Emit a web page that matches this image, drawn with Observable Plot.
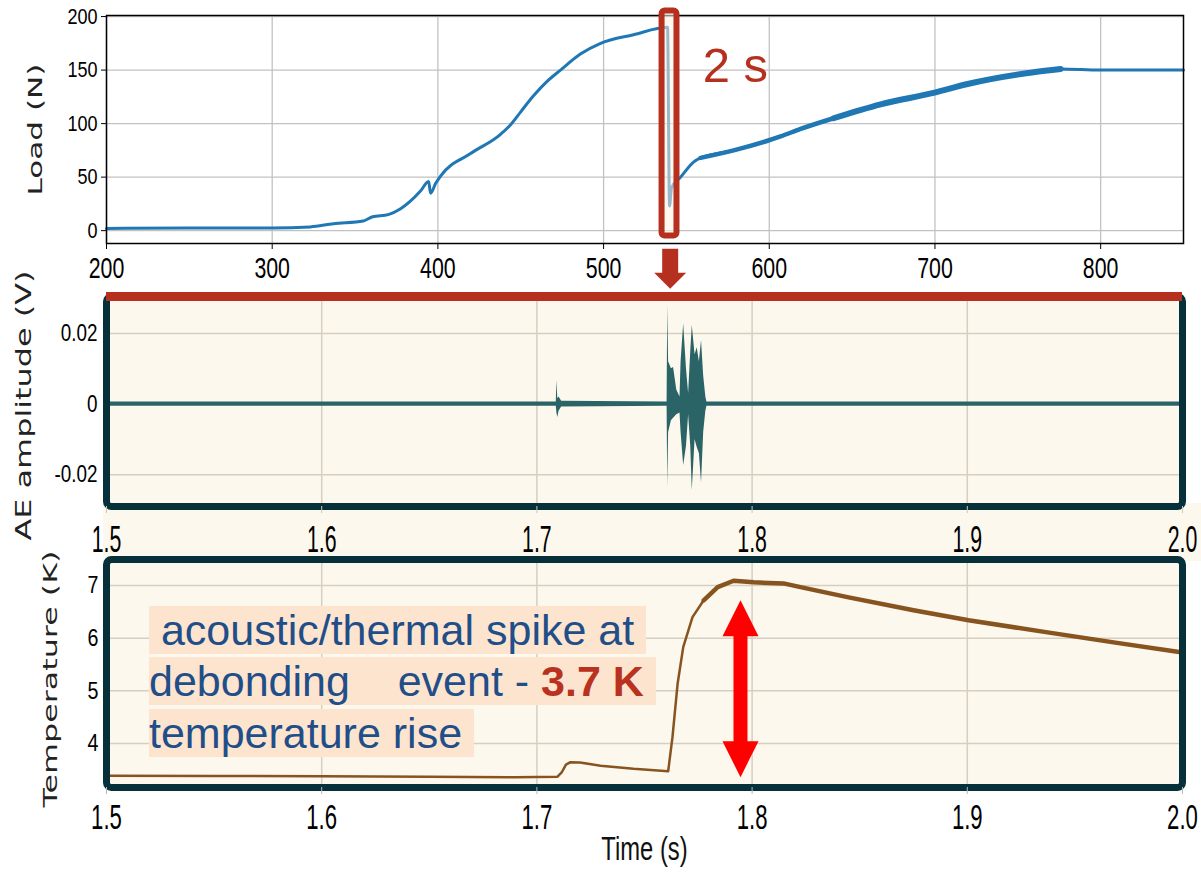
<!DOCTYPE html>
<html><head><meta charset="utf-8">
<script src="https://cdn.jsdelivr.net/npm/d3@7"></script>
<script src="https://cdn.jsdelivr.net/npm/@observablehq/plot@0.6"></script>
<style>
body{margin:0;background:#fff;}
#wrap{position:relative;width:1201px;height:872px;overflow:hidden;background:#fff;}
#wrap svg{position:absolute;left:0;}
.band{position:absolute;background:#fdf8ee;}
.note{position:absolute;left:149px;height:48px;line-height:48px;background:#fde4cf;color:#1f4e89;font-family:"Liberation Sans",Arial,sans-serif;font-size:43px;white-space:pre;}
.note b{color:#b8321f;}
</style></head><body><div id="wrap"></div>
<script>
// ---------- data ----------
const loadTime = [200, 250, 300, 323, 337, 355, 360.6, 370, 377.5, 389.5, 394.4, 395.6, 398.6, 401.6, 419.7, 437.8, 443.9, 450, 457.7, 465.6, 474, 486, 498.2, 518, 538.6, 539.8, 541, 546.5, 554.3, 558.5, 578.5, 599, 606.8, 618.9, 638.8, 667.2, 699.8, 719.7, 759.6, 775.8, 800, 850];
const loadN    = [2, 2.5, 2.5, 3.5, 6.5, 9, 13, 15, 20.5, 37, 46, 35, 44, 51, 72, 90, 99, 111, 126, 139, 150, 165, 175, 183, 190, 23, 40, 50, 64, 68, 75, 84, 88, 95, 105, 118, 129, 137, 148, 151, 150, 150];
const loadXTicks = [200, 300, 400, 500, 600, 700, 800];
const loadYTicks = [0, 50, 100, 150, 200];

const aeTime = [1.5, 1.709, 1.7093, 1.7097, 1.7103, 1.7115, 1.7605, 1.7608, 1.7612, 1.7625, 1.7635, 1.765, 1.7665, 1.767, 1.7682, 1.7695, 1.7705, 1.7715, 1.7722, 1.7735, 1.7745, 1.7755, 1.7765, 1.7775, 1.7785, 1.779, 2.0];
const aeHigh = [0.0006, 0.0006, 0.0067, 0.0015, 0.002, 0.0008, 0.0006, 0.028, 0.012, 0.010, 0.0104, 0.004, 0.002, 0.012, 0.0228, 0.010, 0.003, 0.015, 0.0223, 0.014, 0.016, 0.012, 0.018, 0.008, 0.002, 0.0006, 0.0006];
const aeLow  = [-0.0006, -0.0006, -0.0025, -0.0038, -0.002, -0.0008, -0.0006, -0.0237, -0.008, -0.0047, -0.004, -0.003, -0.0025, -0.008, -0.0174, -0.012, -0.003, -0.012, -0.0245, -0.010, -0.0123, -0.014, -0.0223, -0.008, -0.002, -0.0006, -0.0006];
const aeYTicks = [-0.02, 0, 0.02];

const tempTime = [1.5, 1.55, 1.6, 1.65, 1.69, 1.7096, 1.7115, 1.7135, 1.7156, 1.72, 1.7296, 1.7449, 1.761, 1.763, 1.7654, 1.768, 1.7723, 1.7775, 1.784, 1.7914, 1.8007, 1.8146, 1.8225, 1.8443, 1.875, 1.9006, 1.9373, 1.968, 2.0];
const tempK    = [3.39, 3.385, 3.38, 3.37, 3.36, 3.37, 3.45, 3.6, 3.645, 3.64, 3.58, 3.52, 3.474, 4.12, 5.14, 5.83, 6.40, 6.72, 6.97, 7.09, 7.06, 7.04, 6.97, 6.78, 6.53, 6.34, 6.11, 5.92, 5.73];
const timeTicks = [1.5, 1.6, 1.7, 1.8, 1.9, 2.0];
const tempYTicks = [4, 5, 6, 7];

// annotations (data units)
const zoomBox = {x1: 535.3, x2: 544.3, y1: -5.1, y2: 205.1};
const zoomLabel = {x: 559.8, y: 153.7, text: "2 s"};
const zoomArrow = {x: 540.2, y: -16.8};
const riseArrow = {x: 1.7946, low: 3.36, high: 6.72};

// ---------- helpers ----------
const SANS = '"Liberation Sans",Arial,sans-serif';
const cream = "#fdf8ee", darkFrame = "#06303a", red = "#b5301f";
const loadData = loadTime.map((t, i) => ({t, v: loadN[i]}));
const aeData = aeTime.map((t, i) => ({t, hi: aeHigh[i], lo: aeLow[i]}));
const tempData = tempTime.map((t, i) => ({t, v: tempK[i]}));

const headUp = {draw(c){ c.moveTo(0,0); c.lineTo(18,36); c.lineTo(-18,36); c.closePath(); }};
const headDown = {draw(c){ c.moveTo(0,0); c.lineTo(18,-36); c.lineTo(-18,-36); c.closePath(); }};
const blockDown = {draw(c){ c.moveTo(-8,0); c.lineTo(8,0); c.lineTo(8,24); c.lineTo(16,24); c.lineTo(0,40); c.lineTo(-16,24); c.lineTo(-8,24); c.closePath(); }};

function stretchEl(el, sx, sy, ax, ay) {
  const b = el.getBBox();
  const cx = b.x + b.width * ax, cy = b.y + b.height * ay;
  const t = el.getAttribute("transform") || "";
  el.setAttribute("transform", `${t} translate(${cx},${cy}) scale(${sx},${sy}) translate(${-cx},${-cy})`);
}
function stretch(svg, sel, sx, sy, ax, ay) {
  svg.querySelectorAll(sel).forEach(el => stretchEl(el, sx, sy, ax, ay));
}
function byText(svg, s) {
  return [...svg.querySelectorAll("text")].filter(el => el.textContent === s);
}
function fitLength(svg, s, len) {
  byText(svg, s).forEach(el => {
    el.setAttribute("textLength", len);
    el.setAttribute("lengthAdjust", "spacingAndGlyphs");
  });
}
const fmt1 = d => d.toFixed(1);
const fmtAE = d => d === 0 ? "0" : d.toFixed(2);
const fmtInt = d => String(d);
const baseStyle = {background: "transparent", overflow: "visible", fontFamily: SANS, color: "black"};
const labelFont = {rotate: -90, textAnchor: "start", frameAnchor: "left", fontFamily: "DejaVu Sans", fill: "#222"};

// ---------- panel 1: load ----------
const p1 = Plot.plot({
  width: 1201, height: 290,
  marginLeft: 106, marginRight: 18, marginTop: 15, marginBottom: 47,
  style: baseStyle,
  x: {domain: [200, 850], label: null},
  y: {domain: [-12, 201], label: null},
  marks: [
    Plot.gridX(loadXTicks, {stroke: "#c2c2c2", strokeOpacity: 1, strokeWidth: 1.3}),
    Plot.gridY(loadYTicks, {stroke: "#c2c2c2", strokeOpacity: 1, strokeWidth: 1.3}),
    Plot.line(loadData, {x: "t", y: "v", stroke: "#1f77b4", strokeWidth: 3, curve: "monotone-x"}),
    Plot.line(loadData.filter(d => d.t >= 556 && d.t <= 640), {x: "t", y: "v", stroke: "#1f77b4", strokeWidth: 4.5, curve: "monotone-x"}),
    Plot.line(loadData.filter(d => d.t >= 638 && d.t <= 785), {x: "t", y: "v", stroke: "#1f77b4", strokeWidth: 6, curve: "monotone-x"}),
    Plot.frame({stroke: "black", strokeWidth: 1.5}),
    Plot.axisX(loadXTicks, {tickSize: 6, tickPadding: 7, fontSize: 26, tickFormat: fmtInt, label: null}),
    Plot.axisY(loadYTicks, {tickSize: 5, tickPadding: 4, fontSize: 22, tickFormat: fmtInt, label: null}),
    Plot.text(["Load (N)"], {...labelFont, dx: -71, dy: 66, fontSize: 20}),
    Plot.rect([zoomBox], {x1: "x1", x2: "x2", y1: "y1", y2: "y2", fill: "#fdf3e0", fillOpacity: 0.55, stroke: red, strokeWidth: 6, rx: 3}),
    Plot.text([zoomLabel], {x: "x", y: "y", text: "text", textAnchor: "start", fontSize: 49, fontFamily: SANS, fill: red}),
    Plot.dot([zoomArrow], {x: "x", y: "y", symbol: blockDown, r: 5, fill: red, stroke: "none"})
  ]
});

// ---------- panel 2: AE ----------
const p2 = Plot.plot({
  width: 1201, height: 270,
  marginLeft: 106, marginRight: 19, marginTop: 16, marginBottom: 44,
  style: baseStyle,
  x: {domain: [1.5, 2.0], label: null},
  y: {domain: [-0.029, 0.0305], label: null},
  marks: [
    Plot.frame({fill: cream, stroke: null}),
    Plot.gridX(timeTicks.slice(1, -1), {stroke: "#d6cfc0", strokeOpacity: 1, strokeWidth: 1.5}),
    Plot.gridY(aeYTicks, {stroke: "#d6cfc0", strokeOpacity: 1, strokeWidth: 1.5}),
    Plot.areaY(aeData, {x: "t", y1: "lo", y2: "hi", fill: "#2a6466"}),
    Plot.frame({stroke: darkFrame, strokeWidth: 7, rx: 5}),
    Plot.ruleY([0.0305], {stroke: red, strokeWidth: 9}),
    Plot.axisX(timeTicks, {tickSize: 7, tickPadding: 10, stroke: "#cfc8b8", fill: "black", fontSize: 26, tickFormat: fmt1, label: null}),
    Plot.axisY(aeYTicks, {tickSize: 0, tickPadding: 9, fontSize: 23, tickFormat: fmtAE, label: null}),
    Plot.text(["AE amplitude (V)"], {...labelFont, dx: -82, dy: 139, fontSize: 21})
  ]
});

// ---------- panel 3: temperature ----------
const p3 = Plot.plot({
  width: 1201, height: 332,
  marginLeft: 106, marginRight: 19, marginTop: 19, marginBottom: 85,
  style: baseStyle,
  x: {domain: [1.5, 2.0], label: null},
  y: {domain: [3.165, 7.494], label: null},
  marks: [
    Plot.frame({fill: cream, stroke: null}),
    Plot.gridX(timeTicks.slice(1, -1), {stroke: "#d6cfc0", strokeOpacity: 1, strokeWidth: 1.5}),
    Plot.gridY(tempYTicks, {stroke: "#d6cfc0", strokeOpacity: 1, strokeWidth: 1.5}),
    Plot.line(tempData, {x: "t", y: "v", stroke: "#87531f", strokeWidth: 2.5}),
    Plot.line(tempData.filter(d => d.t >= 1.775), {x: "t", y: "v", stroke: "#87531f", strokeWidth: 4.5}),
    Plot.ruleX([riseArrow], {x: "x", y1: "high", y2: "low", stroke: "#ff0000", strokeWidth: 14, insetTop: 34, insetBottom: 34}),
    Plot.dot([riseArrow], {x: "x", y: "high", symbol: headUp, r: 5, fill: "#ff0000", stroke: "none"}),
    Plot.dot([riseArrow], {x: "x", y: "low", symbol: headDown, r: 5, fill: "#ff0000", stroke: "none"}),
    Plot.frame({stroke: darkFrame, strokeWidth: 7, rx: 5}),
    Plot.axisX(timeTicks, {tickSize: 7, tickPadding: 8, stroke: "#b8b8b8", fill: "black", fontSize: 27, tickFormat: fmt1, label: null}),
    Plot.axisY(tempYTicks, {tickSize: 0, tickPadding: 8, fontSize: 24, tickFormat: fmtInt, label: null}),
    Plot.text(["Temperature (K)"], {...labelFont, dx: -56, dy: 134, fontSize: 20}),
    Plot.text(["Time (s)"], {frameAnchor: "bottom", dy: 71, fontSize: 29, fill: "#111"})
  ]
});

// ---------- assemble ----------
const wrap = document.getElementById("wrap");
const band = document.createElement("div");
band.className = "band";
Object.assign(band.style, {left: "103px", top: "503px", width: "1098px", height: "58px"});
wrap.appendChild(band);
p1.style.top = "0px"; p2.style.top = "280px"; p3.style.top = "540px";
wrap.appendChild(p1); wrap.appendChild(p2); wrap.appendChild(p3);

const XT = 'g[aria-label="x-axis tick label"] text';
const YT = 'g[aria-label="y-axis tick label"] text';
stretch(p1, XT, 0.82, 1.13, 0.5, 0);
stretch(p2, XT, 0.82, 1.4, 0.5, 0);
stretch(p3, XT, 0.82, 1.3, 0.5, 0);
stretch(p1, YT, 0.82, 1, 1, 0.5);
stretch(p2, YT, 0.82, 1, 1, 0.5);
stretch(p3, YT, 0.82, 1, 1, 0.5);
byText(p3, "Time (s)").forEach(el => stretchEl(el, 0.82, 1.15, 0.5, 0.5));
fitLength(p1, "Load (N)", 132);
fitLength(p2, "AE amplitude (V)", 270);
fitLength(p3, "Temperature (K)", 257);

const notes = [
  {top: 606, html: " acoustic/thermal spike at "},
  {top: 657, html: "debonding    event - <b>3.7 K</b> "},
  {top: 709, html: "temperature rise "}
];
notes.forEach(n => {
  const d = document.createElement("div");
  d.className = "note";
  d.style.top = n.top + "px";
  d.innerHTML = n.html;
  wrap.appendChild(d);
});
</script></body></html>
